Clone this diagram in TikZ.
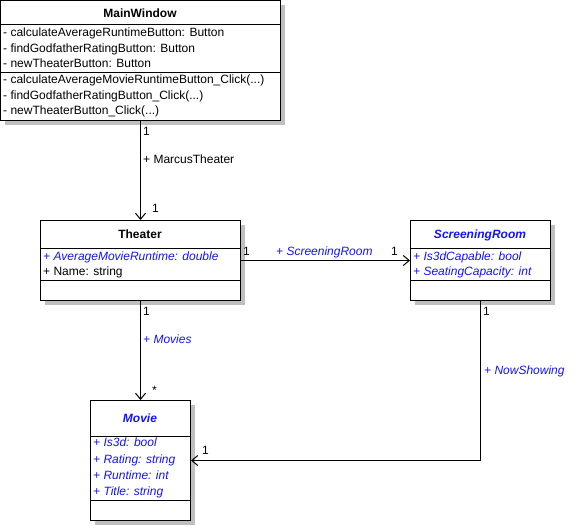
\documentclass[tikz,border=0pt]{standalone}
\usepackage{fontspec}
\setmainfont{Liberation Sans}
\usetikzlibrary{arrows.meta,shadows}
\newcommand{\argdots}{...}

\begin{document}
\begin{tikzpicture}[x=1pt,y=-1pt,
  classbox/.style={draw,line width=1pt,fill=white,inner sep=0pt,anchor=north west,
    drop shadow={shadow xshift=4pt,shadow yshift=-4pt,fill=black!25,opacity=1}},
  member/.style={anchor=base west,inner sep=0pt,font=\fontsize{12}{14}\selectfont},
  attr/.style={member,umlBlue,font=\fontsize{12}{14}\selectfont\itshape},
  title/.style={anchor=base,inner sep=0pt,font=\fontsize{12}{14}\selectfont\bfseries},
  assoc/.style={line width=1pt,-{Straight Barb[length=6pt,width=10pt]}},
  mult/.style={anchor=base west,inner sep=0pt,font=\fontsize{12}{14}\selectfont}]
  \definecolor{umlBlue}{RGB}{20,20,250}
  \useasboundingbox (0,0) rectangle (580,525);
  % class boxes
  \node[classbox,minimum width=280pt,minimum height=120pt] (mw) at (0,0) {};
  \node[classbox,minimum width=200pt,minimum height=80pt]  (th) at (40,220) {};
  \node[classbox,minimum width=140pt,minimum height=80pt]  (sr) at (410,220) {};
  \node[classbox,minimum width=100pt,minimum height=120pt] (mv) at (90,400) {};
  \draw (0,24)--(280,24) (0,72)--(280,72);
  \draw (40,248)--(240,248) (40,280)--(240,280);
  \draw (410,248)--(550,248) (410,280)--(550,280);
  \draw (90,436)--(190,436) (90,500)--(190,500);
  % titles
  \node[title] (mwt) at (140,17) {MainWindow};
  \node[title] (tht) at (140,238) {Theater};
  \node[title,umlBlue,font=\fontsize{12}{14}\selectfont\bfseries\itshape] (srt) at (480,238) {ScreeningRoom};
  \node[title,umlBlue,font=\fontsize{12}{14}\selectfont\bfseries\itshape] (mvt) at (140,422) {Movie};
  % members
  \foreach \txt [count=\i] in {{- calculateAverageRuntimeButton: Button},
      {- findGodfatherRatingButton: Button},{- newTheaterButton: Button},
      {- calculateAverageMovieRuntimeButton\_Click(\argdots)},
      {- findGodfatherRatingButton\_Click(\argdots)},{- newTheaterButton\_Click(\argdots)}}
    \node[member] (mwm\i) at (3,21+15.6*\i) {\txt};
  \node[attr] (thm1) at (43,260) {+ AverageMovieRuntime: double};
  \node[member] (thm2) at (43,275.7) {+ Name: string};
  \foreach \txt [count=\i] in {{+ Is3dCapable: bool},{+ SeatingCapacity: int}}
    \node[attr] (srm\i) at (413,244.3+15.7*\i) {\txt};
  \foreach \txt [count=\i] in {{+ Is3d: bool},{+ Rating: string},{+ Runtime: int},{+ Title: string}}
    \node[attr] (mvm\i) at (93,430.4+16.3*\i) {\txt};
  % associations
  \draw[assoc] (mw.south) -- (th.north);
  \draw[assoc] (th.east) -- (sr.west);
  \draw[assoc] (th.south) -- (mv.north);
  \draw[assoc] (sr.south) |- (mv.east);
  \node[mult] (m1) at (143,135) {1};
  \node[mult] (r1) at (143,163.3) {+ MarcusTheater};
  \node[mult] (m2) at (152,212.7) {1};
  \node[mult] (m3) at (243,255) {1};
  \node[attr] (r2) at (276,255) {+ ScreeningRoom};
  \node[mult] (m4) at (391,255) {1};
  \node[mult] (m5) at (143,315.7) {1};
  \node[attr] (r3) at (143,343.3) {+ Movies};
  \node[mult] (m6) at (152,394.5) {*};
  \node[mult] (m7) at (483,315.7) {1};
  \node[attr] (r4) at (484,374) {+ NowShowing};
  \node[mult] (m8) at (202,454) {1};
\end{tikzpicture}
\end{document}
